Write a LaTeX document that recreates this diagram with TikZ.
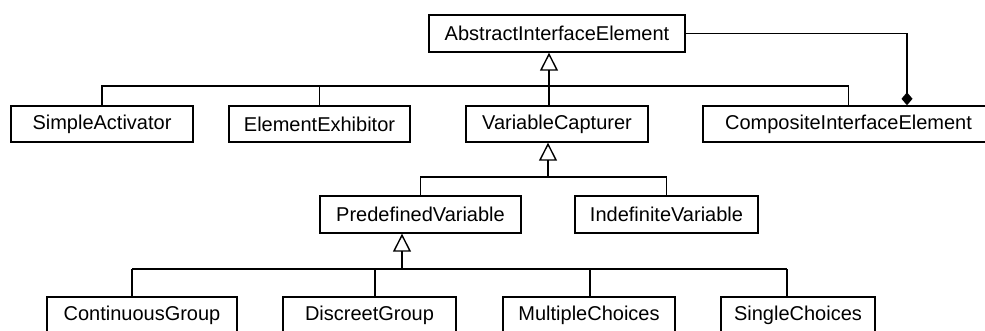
\documentclass[tikz,border=0pt]{standalone}
\usepackage{fontspec}
\setmainfont{Liberation Sans}
\usetikzlibrary{arrows.meta,calc}
\begin{document}
\begin{tikzpicture}[x=1pt,y=-1pt,
  cls/.style={draw, line width=1.4pt, minimum height=36pt, inner sep=0pt,
              font=\fontsize{20}{24}\selectfont},
  link/.style={line width=1.4pt},
  inherit/.style={link, -{Triangle[open,length=18pt,width=18pt,line width=1.4pt]}},
  compose/.style={link, line width=1.7pt, -{Diamond[length=13pt,width=11pt]}}]
\useasboundingbox (0,0) rectangle (985,331);

% classes
\node[cls, minimum width=256pt, minimum height=37pt] (abs) at (557,33.5) {AbstractInterfaceElement};

\node[cls, minimum width=182pt] (sa) at (102,124)   {SimpleActivator};
\node[cls, minimum width=181pt] (ee) at (319.5,124) {ElementExhibitor};
\node[cls, minimum width=182pt] (vc) at (557,124)   {VariableCapturer};
\node[cls, minimum width=291pt] (ci) at (848.5,124) {CompositeInterfaceElement};

\node[cls, minimum width=201pt, minimum height=37pt] (pv) at (420.5,214.5) {PredefinedVariable};
\node[cls, minimum width=183pt, minimum height=37pt] (iv) at (666.5,214.5) {IndefiniteVariable};

\node[cls, minimum width=190pt] (cg) at (142,315)   {ContinuousGroup};
\node[cls, minimum width=173pt] (dg) at (369.5,315) {DiscreetGroup};
\node[cls, minimum width=172pt] (mc) at (589,315)   {MultipleChoices};
\node[cls, minimum width=154pt] (sc) at (798,315)   {SingleChoices};

% generalization: AbstractInterfaceElement
\coordinate (b1) at (549,86);
\draw[link] (sa.north) |- (ci.north |- b1) -- (ci.north);
\draw[link] (ee.north) -- (ee.north |- b1);
\draw[link] (vc.north -| b1) -- (b1);
\draw[inherit] (b1) -- (b1 |- abs.south);

% generalization: VariableCapturer
\coordinate (b2) at (548,177);
\draw[link] (pv.north) |- (iv.north |- b2) -- (iv.north);
\draw[inherit] (b2) -- (b2 |- vc.south);

% generalization: PredefinedVariable
\coordinate (b3) at (402,269);
\coordinate (d1) at (132,269);
\coordinate (d2) at (375,269);
\coordinate (d3) at (590,269);
\coordinate (d4) at (787,269);
\draw[link] (d1) -- (d4);
\draw[link] (d1) -- (d1 |- cg.north);
\draw[link] (d2) -- (d2 |- dg.north);
\draw[link] (d3) -- (d3 |- mc.north);
\draw[link] (d4) -- (d4 |- sc.north);
\draw[inherit] (b3) -- (b3 |- pv.south);

% composition
\coordinate (cj) at (907,0);
\draw[compose] (abs.east) -| (cj |- ci.north);
\end{tikzpicture}
\end{document}
